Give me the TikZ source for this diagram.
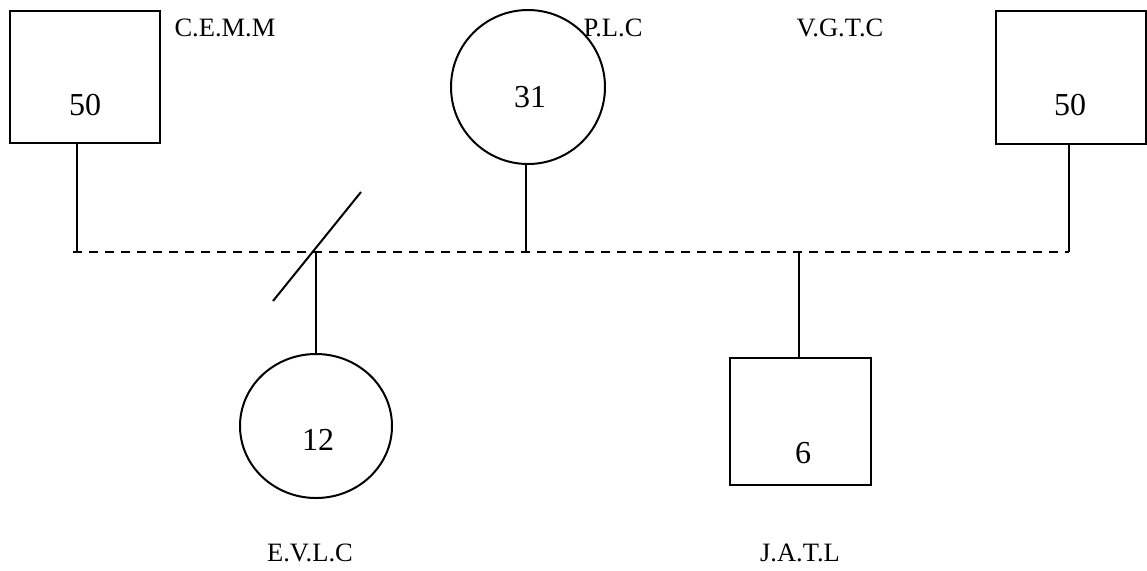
\documentclass[tikz,border=0pt]{standalone}
\usepackage{fontspec}
\setmainfont{Liberation Serif}
\usetikzlibrary{shapes.geometric}
\begin{document}
\begin{tikzpicture}[x=0.5pt,y=-0.5pt,line width=1pt,
    unitbox/.style={draw,rectangle,inner sep=0pt},
    unitnum/.style={font=\fontsize{16}{18}\selectfont,inner sep=0pt},
    unitname/.style={font=\fontsize{13.25}{15}\selectfont,inner sep=0pt},
    buslink/.style={dash pattern=on 4.5pt off 3.5pt}]
    \useasboundingbox (0,0) rectangle (1147,570);

    % units
    \node[unitbox,minimum width=75pt,minimum height=66pt] (cemm) at (85,77) {};
    \node[unitbox,minimum width=75pt,minimum height=66.5pt] (vgtc) at (1071,77.5) {};
    \node[unitbox,minimum width=70.5pt,minimum height=63.5pt] (jatl) at (800.5,421.5) {};
    \node[draw,circle,inner sep=0pt,minimum size=77pt] (plc) at (528,87) {};
    \node[draw,ellipse,inner sep=0pt,minimum width=76pt,minimum height=72pt] (evlc) at (316,426) {};

    % numbers
    \node[unitnum] (ncemm) at (85,105) {50};
    \node[unitnum] (nvgtc) at (1070,105) {50};
    \node[unitnum] (nplc) at (530,97) {31};
    \node[unitnum] (nevlc) at (318,440) {12};
    \node[unitnum] (njatl) at (803,453) {6};

    % names
    \node[unitname] (lcemm) at (225,28) {C.E.M.M};
    \node[unitname] (lplc) at (613,28) {P.L.C};
    \node[unitname] (lvgtc) at (840,28) {V.G.T.C};
    \node[unitname] (levlc) at (310,553) {E.V.L.C};
    \node[unitname] (ljatl) at (800,553) {J.A.T.L};

    % bus
    \coordinate (busW) at (73,252);
    \coordinate (busE) at (1069,252);
    \draw[buslink] (busW) -- (busE);
    \foreach \tap/\unit in {77/cemm,526/plc,1069/vgtc} {
        \coordinate (t\unit) at (\tap,252);
        \draw (t\unit) -- (t\unit |- \unit.south);
    }
    \foreach \tap/\unit in {316/evlc,799/jatl} {
        \coordinate (t\unit) at (\tap,252);
        \draw (t\unit) -- (t\unit |- \unit.north);
    }

    % cut mark
    \coordinate (cutA) at (273,301);
    \coordinate (cutB) at (361,192);
    \draw (cutA) -- (cutB);
\end{tikzpicture}
\end{document}
